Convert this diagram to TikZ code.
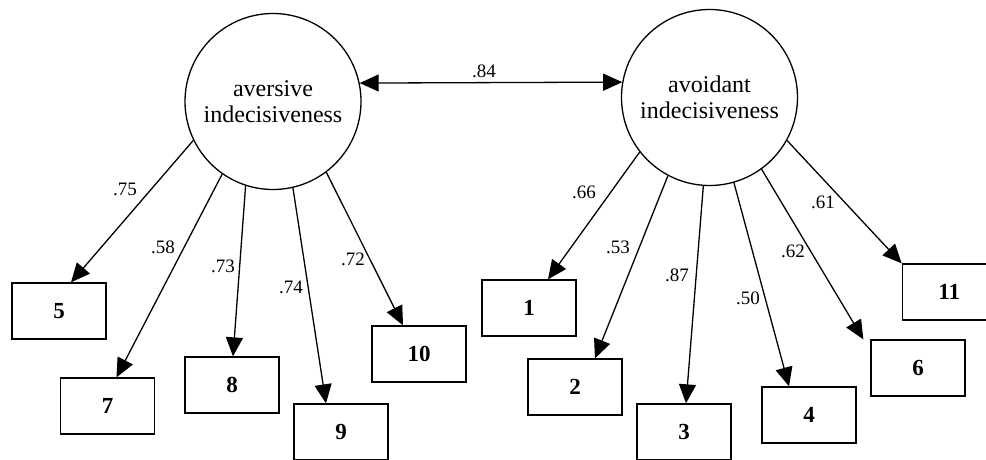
\documentclass[tikz,border=0pt]{standalone}
\usepackage{fontspec}
\setmainfont{Liberation Serif}
\usetikzlibrary{arrows.meta}

\tikzset{
  latent/.style={draw, circle, line width=1.3pt, minimum size=176pt, inner sep=0pt,
    align=center, font=\fontsize{24}{26.4}\selectfont},
  indicator/.style={draw, rectangle, line width=1.3pt, minimum width=94pt,
    minimum height=56pt, inner sep=0pt, font=\fontsize{23}{25}\selectfont\bfseries},
  loading/.style={inner sep=0pt, font=\fontsize{19}{21}\selectfont},
  loadarrow/.style={line width=1.3pt, -{Triangle[length=19pt,width=17pt]}},
  corrarrow/.style={line width=1.3pt, {Triangle[length=19pt,width=17pt]}-{Triangle[length=19pt,width=17pt]}}
}

\begin{document}
\begin{tikzpicture}[x=1pt, y=-1pt]
  \useasboundingbox (0,0) rectangle (986,459);
  \clip (0,0) rectangle (986,459);

  % Latent factors
  \node[latent] (avers) at (273,101.5) {aversive\\indecisiveness};
  \node[latent] (avoid) at (709.5,97.5) {avoidant\\indecisiveness};

  % Items of the aversive factor
  \node[indicator] (i5)  at (59,311)  {5};
  \node[indicator] (i7)  at (107.5,406) {7};
  \node[indicator] (i8)  at (232,385) {8};
  \node[indicator] (i9)  at (341,432) {9};
  \node[indicator] (i10) at (419,354) {10};

  % Items of the avoidant factor
  \node[indicator] (i1)  at (529,308) {1};
  \node[indicator] (i2)  at (575,387) {2};
  \node[indicator] (i3)  at (684,432) {3};
  \node[indicator] (i4)  at (809,415) {4};
  \node[indicator] (i6)  at (918,368) {6};
  \node[indicator] (i11) at (949.3,292) {11};

  % Factor correlation
  \draw[corrarrow] (avers.12) -- (avoid.170.6);
  \node[loading] (r) at (484,71) {.84};

  % Loadings
  \draw[loadarrow] (avers.206.4) -- ([xshift=12pt]i5.north);
  \draw[loadarrow] (avers.235.6) -- ([xshift=9pt]i7.north);
  \draw[loadarrow] (avers.252.9) -- ([xshift=1pt]i8.north);
  \draw[loadarrow] (avers.283.8) -- ([xshift=-15pt]i9.north);
  \draw[loadarrow] (avers.307.4) -- ([xshift=-16pt]i10.north);

  \draw[loadarrow] (avoid.218.2) -- ([xshift=19pt]i1.north);
  \draw[loadarrow] (avoid.242.5) -- ([xshift=20pt]i2.north);
  \draw[loadarrow] (avoid.266)   -- ([xshift=2pt]i3.north);
  \draw[loadarrow] (avoid.286)   -- ([xshift=-20pt]i4.north);
  \draw[loadarrow] (avoid.306.7) -- ([xshift=-7pt]i6.north west);
  \draw[loadarrow] (avoid.331)   -- (i11.north west);

  \node[loading] (l5)  at (125,189) {.75};
  \node[loading] (l7)  at (163,247) {.58};
  \node[loading] (l8)  at (223,266) {.73};
  \node[loading] (l9)  at (291,287) {.74};
  \node[loading] (l10) at (353,259) {.72};

  \node[loading] (l1)  at (584,192) {.66};
  \node[loading] (l2)  at (618,247) {.53};
  \node[loading] (l3)  at (677,275) {.87};
  \node[loading] (l4)  at (748,298) {.50};
  \node[loading] (l6)  at (793,251) {.62};
  \node[loading] (l11) at (823,202) {.61};
\end{tikzpicture}
\end{document}
